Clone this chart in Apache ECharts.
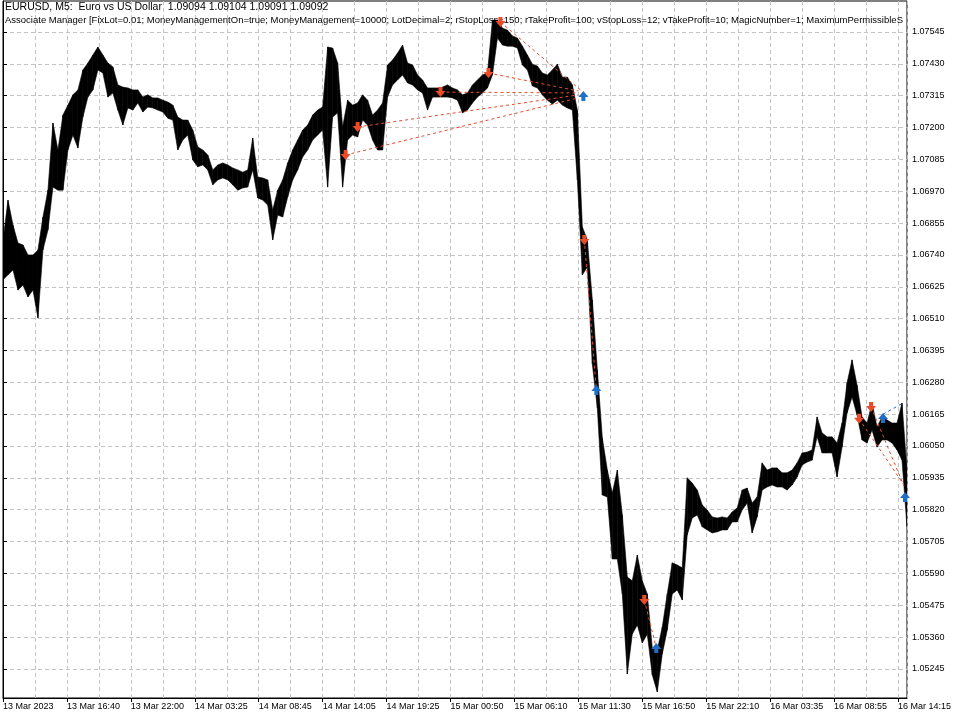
<!DOCTYPE html>
<html><head><meta charset="utf-8">
<script src="https://cdn.jsdelivr.net/npm/echarts@6/dist/echarts.min.js"></script>
<style>html,body{margin:0;padding:0;background:#fff}#c{width:960px;height:720px}</style>
</head><body><div id="c"></div>
<script>
// M5 bars, sampled every 5 bars: high / low of each sample
const barStep = 5;
const highs = [
1.06794,1.06938,1.06848,1.06783,1.06776,1.06740,1.06740,1.06758,1.06877,1.06974,
1.07216,1.07119,1.07245,1.07281,1.07318,1.07336,1.07408,1.07433,1.07462,1.07491,
1.07462,1.07433,1.07419,1.07354,1.07346,1.07343,1.07336,1.07336,1.07310,1.07318,
1.07307,1.07307,1.07299,1.07292,1.07281,1.07238,1.07227,1.07227,1.07191,1.07130,
1.07119,1.07101,1.07047,1.07065,1.07072,1.07065,1.07054,1.07047,1.07039,1.07047,
1.07162,1.07021,1.07018,1.07011,1.06902,1.06974,1.07011,1.07072,1.07119,1.07155,
1.07191,1.07209,1.07245,1.07263,1.07274,1.07491,1.07487,1.07433,1.07202,1.07299,
1.07281,1.07289,1.07318,1.07299,1.07245,1.07263,1.07289,1.07426,1.07444,1.07469,
1.07498,1.07433,1.07426,1.07390,1.07372,1.07343,1.07343,1.07343,1.07346,1.07354,
1.07343,1.07336,1.07318,1.07325,1.07354,1.07372,1.07390,1.07397,1.07588,1.07588,
1.07559,1.07552,1.07531,1.07523,1.07494,1.07462,1.07429,1.07422,1.07397,1.07390,
1.07408,1.07429,1.07382,1.07382,1.07354,1.07263,1.06841,1.06794,1.06577,1.06325,
1.06079,1.05963,1.05880,1.05963,1.05801,1.05577,1.05563,1.05656,1.05563,1.05516,
1.05321,1.05313,1.05396,1.05516,1.05628,1.05620,1.05610,1.05935,1.05916,1.05891,
1.05837,1.05819,1.05794,1.05790,1.05794,1.05790,1.05812,1.05826,1.05891,1.05898,
1.05844,1.05866,1.05989,1.05963,1.05971,1.05971,1.05953,1.05953,1.05963,1.05989,
1.06025,1.06028,1.06036,1.06155,1.06097,1.06083,1.06083,1.06061,1.06133,1.06278,
1.06361,1.06270,1.06155,1.06133,1.06205,1.06119,1.06155,1.06144,1.06133,1.06133,
1.06205,1.05963
];
const lows = [
1.06650,1.06668,1.06686,1.06613,1.06631,1.06588,1.06613,1.06512,1.06758,1.06830,
1.06985,1.06974,1.06974,1.07119,1.07173,1.07126,1.07238,1.07310,1.07336,1.07408,
1.07397,1.07310,1.07325,1.07263,1.07209,1.07271,1.07263,1.07289,1.07256,1.07274,
1.07271,1.07263,1.07256,1.07234,1.07227,1.07119,1.07155,1.07173,1.07083,1.07058,
1.07065,1.07047,1.06993,1.07011,1.07018,1.07011,1.06993,1.06974,1.06982,1.06985,
1.07047,1.06946,1.06938,1.06920,1.06794,1.06884,1.06877,1.06949,1.07011,1.07047,
1.07094,1.07119,1.07155,1.07173,1.07191,1.06985,1.07238,1.07253,1.06985,1.07155,
1.07173,1.07166,1.07227,1.07209,1.07155,1.07119,1.07119,1.07310,1.07354,1.07372,
1.07390,1.07361,1.07354,1.07336,1.07325,1.07263,1.07310,1.07310,1.07310,1.07310,
1.07307,1.07299,1.07253,1.07263,1.07289,1.07310,1.07325,1.07343,1.07390,1.07523,
1.07498,1.07494,1.07494,1.07487,1.07426,1.07408,1.07350,1.07343,1.07318,1.07299,
1.07285,1.07299,1.07281,1.07271,1.07263,1.07011,1.06668,1.06696,1.06346,1.06187,
1.05873,1.05866,1.05642,1.05642,1.05516,1.05227,1.05371,1.05404,1.05339,1.05371,
1.05223,1.05162,1.05299,1.05386,1.05516,1.05530,1.05494,1.05729,1.05790,1.05801,
1.05758,1.05747,1.05736,1.05740,1.05747,1.05747,1.05776,1.05776,1.05819,1.05844,
1.05736,1.05794,1.05891,1.05902,1.05909,1.05902,1.05902,1.05891,1.05909,1.05938,
1.05981,1.05992,1.05999,1.06083,1.06025,1.06025,1.06025,1.05938,1.06046,1.06169,
1.06227,1.06162,1.06072,1.06061,1.06108,1.06046,1.06072,1.06072,1.06061,1.06036,
1.05999,1.05758
];
const xTickLabels = ['13 Mar 2023','13 Mar 16:40','13 Mar 22:00','14 Mar 03:25','14 Mar 08:45',
  '14 Mar 14:05','14 Mar 19:25','15 Mar 00:50','15 Mar 06:10','15 Mar 11:30','15 Mar 16:50',
  '15 Mar 22:10','16 Mar 03:35','16 Mar 08:55','16 Mar 14:15'];
const yTickValues = [1.05245,1.05360,1.05475,1.05590,1.05705,1.05820,1.05935,1.06050,1.06165,
  1.06280,1.06395,1.06510,1.06625,1.06740,1.06855,1.06970,1.07085,1.07200,1.07315,1.07430,1.07545];
// trade arrows: [bar index, price]
const sellArrows = [[343,1.07101],[355,1.07202],[438,1.07328],[486,1.07397],[498,1.07581],
  [582,1.06794],[642,1.05494],[857,1.06148],[869,1.06191]];
const buyArrows = [[581,1.07314],[594,1.06252],[654,1.05321],[881,1.06151],[903,1.05866]];
// trade lines: [entry bar, entry price, exit bar, exit price]
const sellLines = [[343,1.07101,576,1.07307],[355,1.07202,576,1.07318],[438,1.07328,576,1.07325],
  [486,1.07397,576,1.07332],[498,1.07581,578,1.07336],[582,1.06794,594,1.06252],
  [642,1.05494,654,1.05321],[857,1.06148,902,1.05909],[869,1.06191,902,1.05905]];
const buyLines = [[881,1.06165,901,1.06205]];
const headerLine1 = 'EURUSD, M5:  Euro vs US Dollar  1.09094 1.09104 1.09091 1.09092';
const headerLine2 = 'Associate Manager [FixLot=0.01; MoneyManagementOn=true; MoneyManagement=10000; LotDecimal=2; rStopLoss=150; rTakeProfit=100; vStopLoss=12; vTakeProfit=10; MagicNumber=1; MaximumPermissibleSpread=20]';

const FONT = 'Liberation Sans';
const RED = '#ea4b2a', BLUE = '#1f6fc4';
const bandData = highs.map((h, i) => [i * barStep, lows[i], h]);
const grid = {left: 2, right: 53, top: 1, bottom: 22, show: true, borderColor: '#000', borderWidth: 1, backgroundColor: 'transparent'};
const dashed = {show: true, lineStyle: {color: '#c4c4c4', type: [4, 3], width: 1}};

const chart = echarts.init(document.getElementById('c'), null, {renderer: 'canvas'});
chart.setOption({
  animation: false,
  backgroundColor: '#fff',
  textStyle: {fontFamily: FONT},
  grid: grid,
  xAxis: {
    type: 'value', min: 0, max: 905, interval: 64,
    axisLine: {show: true, lineStyle: {color: '#000'}},
    axisTick: {show: true, length: 4, lineStyle: {color: '#000'}},
    axisLabel: {color: '#000', fontSize: 9, fontFamily: FONT, align: 'left', margin: 4,
      showMaxLabel: false,
      formatter: v => (v % 64 === 0 && xTickLabels[v / 64]) ? xTickLabels[v / 64] : ''},
    splitLine: dashed,
    minorTick: {show: false, splitNumber: 2},
    minorSplitLine: dashed
  },
  yAxis: {
    type: 'value', position: 'right', min: 1.05140, max: 1.07657, scale: true,
    axisLine: {show: true, lineStyle: {color: '#000'}},
    axisTick: {show: true, length: 4, lineStyle: {color: '#000'}, customValues: yTickValues},
    axisLabel: {color: '#000', fontSize: 9, fontFamily: FONT, margin: 5,
      customValues: yTickValues, formatter: v => v.toFixed(5)},
    splitLine: dashed
  },
  graphic: [
    {type: 'text', left: 5, top: 2, z: 1, style: {text: headerLine1, font: '10.5px "' + FONT + '"', fill: '#000'}},
    {type: 'text', left: 5, top: 15, z: 1, style: {text: headerLine2, font: '9.5px "' + FONT + '"', fill: '#000', width: 901, overflow: 'truncate', ellipsis: ''}}
  ],
  series: [
    {
      type: 'custom', coordinateSystem: 'cartesian2d', data: bandData, z: 3, clip: true,
      encode: {x: 0, y: [1, 2]},
      renderItem: function (params, api) {
        const i = params.dataIndex;
        if (i >= bandData.length - 1) return null;
        const n = bandData[i + 1];
        const p1 = api.coord([api.value(0), api.value(2)]);
        const p2 = api.coord([n[0], n[2]]);
        const p3 = api.coord([n[0], n[1]]);
        const p4 = api.coord([api.value(0), api.value(1)]);
        return {type: 'polygon', shape: {points: [p1, p2, p3, p4]},
          style: {fill: '#000', stroke: '#000', lineWidth: 0.6}};
      }
    },
    {
      type: 'lines', coordinateSystem: 'cartesian2d', z: 4, silent: true,
      lineStyle: {color: RED, width: 1, type: [3, 3], opacity: 1},
      data: sellLines.map(l => ({coords: [[l[0], l[1]], [l[2], l[3]]]}))
    },
    {
      type: 'lines', coordinateSystem: 'cartesian2d', z: 4, silent: true,
      lineStyle: {color: BLUE, width: 1, type: [3, 3], opacity: 1},
      data: buyLines.map(l => ({coords: [[l[0], l[1]], [l[2], l[3]]]}))
    },
    {
      type: 'scatter', z: 5, data: sellArrows, symbolSize: 10,
      symbol: 'path://M3,0 L7,0 L7,4 L10,4 L5,10 L0,4 L3,4 Z',
      itemStyle: {color: RED, opacity: 1}
    },
    {
      type: 'scatter', z: 5, data: buyArrows, symbolSize: 10,
      symbol: 'path://M5,0 L10,6 L7,6 L7,10 L3,10 L3,6 L0,6 Z',
      itemStyle: {color: BLUE, opacity: 1}
    }
  ]
});
</script>
</body></html>
